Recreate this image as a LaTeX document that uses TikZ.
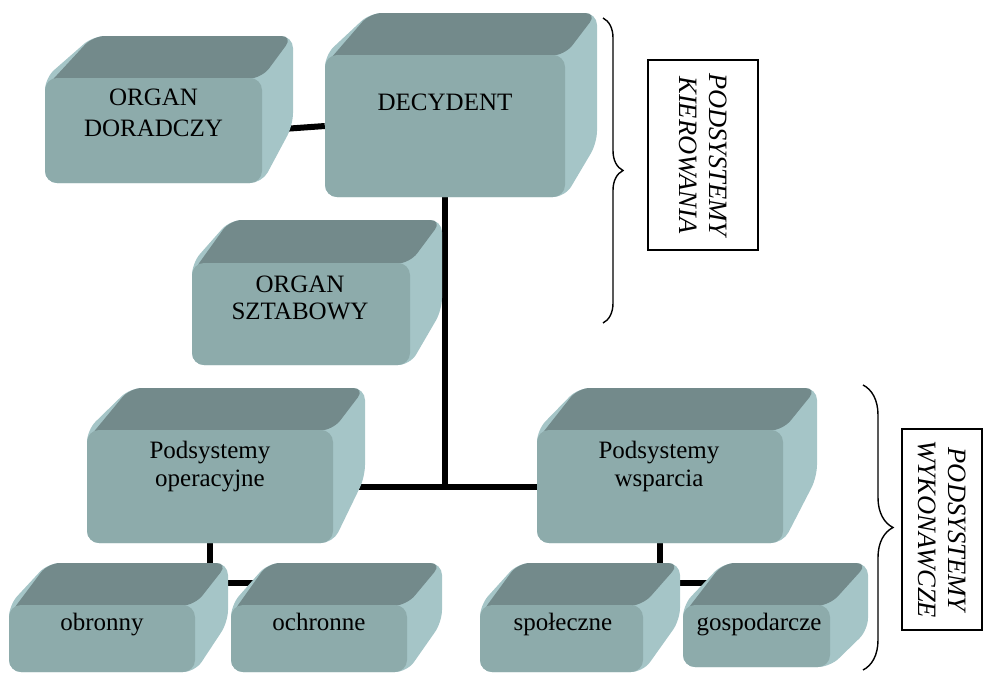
\documentclass[tikz,border=0pt]{standalone}
\usepackage{fontspec}
\setmainfont{Liberation Serif}
\usetikzlibrary{decorations.pathreplacing}
\pgfdeclarelayer{bg}
\pgfsetlayers{bg,main}
\definecolor{frontc}{HTML}{8DABAB}
\definecolor{topc}{HTML}{738A8B}
\definecolor{sidec}{HTML}{A5C5C7}
\tikzset{
  face/.style={rectangle, rounded corners=12pt, fill=frontc, inner sep=0pt},
  lbl/.style={font=\fontsize{25}{31}\selectfont, align=center, inner sep=0pt, anchor=base},
  sidelbl/.style={draw, line width=1.3pt, rotate=-90, font=\itshape\fontsize{26.5}{30}\selectfont, align=center, inner sep=0pt},
  conn/.style={line width=6pt},
  bracestyle/.style={line width=1.4pt, decorate},
}
% #1 name, #2 FL, #3 FT, #4 FR, #5 FB, #6 BL, #7 BT, #8 BR, #9 BB
\newcommand\cube[9]{%
  \fill[sidec, rounded corners=12pt] (#2,#3) -- (#6,#7) -- (#8,#7) -- (#8,#9) -- (#4,#5) -- (#2,#5) -- cycle;
  \fill[topc, rounded corners=12pt] (#2,#3+10) -- (#6,#7) -- (#8,#7) -- (#4,#3) -- cycle;
  \node[face, minimum width={#4-#2}, minimum height={#5-#3}] (#1) at ({(#2+#4)/2},{(#3+#5)/2}) {};
}
\begin{document}
\begin{tikzpicture}[x=1pt, y=-1pt]
\useasboundingbox (0,0) rectangle (983,673);

\cube{doradczy}{45}{78}{262}{183}{93}{36}{293}{125}
\cube{decydent}{325}{55}{565}{197}{370}{13}{597}{143}
\cube{sztabowy}{192}{263}{410}{365}{230}{220}{442}{310}
\cube{oper}{87}{430}{333}{543}{130}{388}{365}{477}
\cube{wsp}{537}{430}{783}{543}{578}{388}{817}{477}
\cube{obronny}{9}{605}{195}{672}{48}{563}{228}{622}
\cube{ochronne}{231}{605}{407}{672}{268}{563}{442}{622}
\cube{spol}{480}{605}{643}{672}{518}{563}{680}{620}
\cube{gosp}{683}{605}{830}{667}{723}{563}{868}{630}

\node[lbl] (doradczy-t) at (153.5,136) {ORGAN\\DORADCZY};
\node[lbl] (decydent-t) at (445,110) {DECYDENT};
\node[lbl, font=\fontsize{25}{27}\selectfont] (sztabowy-t) at (300,319) {ORGAN\\SZTABOWY};
\node[lbl, font=\fontsize{25}{28}\selectfont] (oper-t) at (210,486) {Podsystemy\\operacyjne};
\node[lbl, font=\fontsize{25}{28}\selectfont] (wsp-t) at (659,486) {Podsystemy\\wsparcia};
\node[lbl] (obronny-t) at (102,630) {obronny};
\node[lbl] (ochronne-t) at (319,630) {ochronne};
\node[lbl] (spol-t) at (563,630) {społeczne};
\node[lbl] (gosp-t) at (759,630) {gospodarcze};

\node[sidelbl, minimum width=190pt, minimum height=110pt] (kier) at (703,155) {PODSYSTEMY\\KIEROWANIA};
\node[sidelbl, minimum width=201pt, minimum height=80pt] (wyk) at (942,529.5) {PODSYSTEMY\\WYKONAWCZE};

\coordinate (b1top) at (603,18);
\coordinate (b1bot) at (603,323);
\coordinate (b2top) at (863,385);
\coordinate (b2bot) at (863,670);
\draw[bracestyle, decoration={brace, amplitude=20pt}] (b1top) -- (b1bot);
\draw[bracestyle, decoration={brace, amplitude=30pt}] (b2top) -- (b2bot);

\begin{pgfonlayer}{bg}
\draw[conn] (doradczy.east) -- (decydent.west);
\draw[conn] (decydent.south) -- (decydent.south |- oper.east);
\draw[conn] (oper.east) -- (wsp.west);
\draw[conn] (oper.south) |- ([xshift=30pt, yshift=22pt]ochronne.north west);
\draw[conn] (wsp.south) |- ([xshift=30pt, yshift=22pt]gosp.north west);
\end{pgfonlayer}
\end{tikzpicture}
\end{document}
